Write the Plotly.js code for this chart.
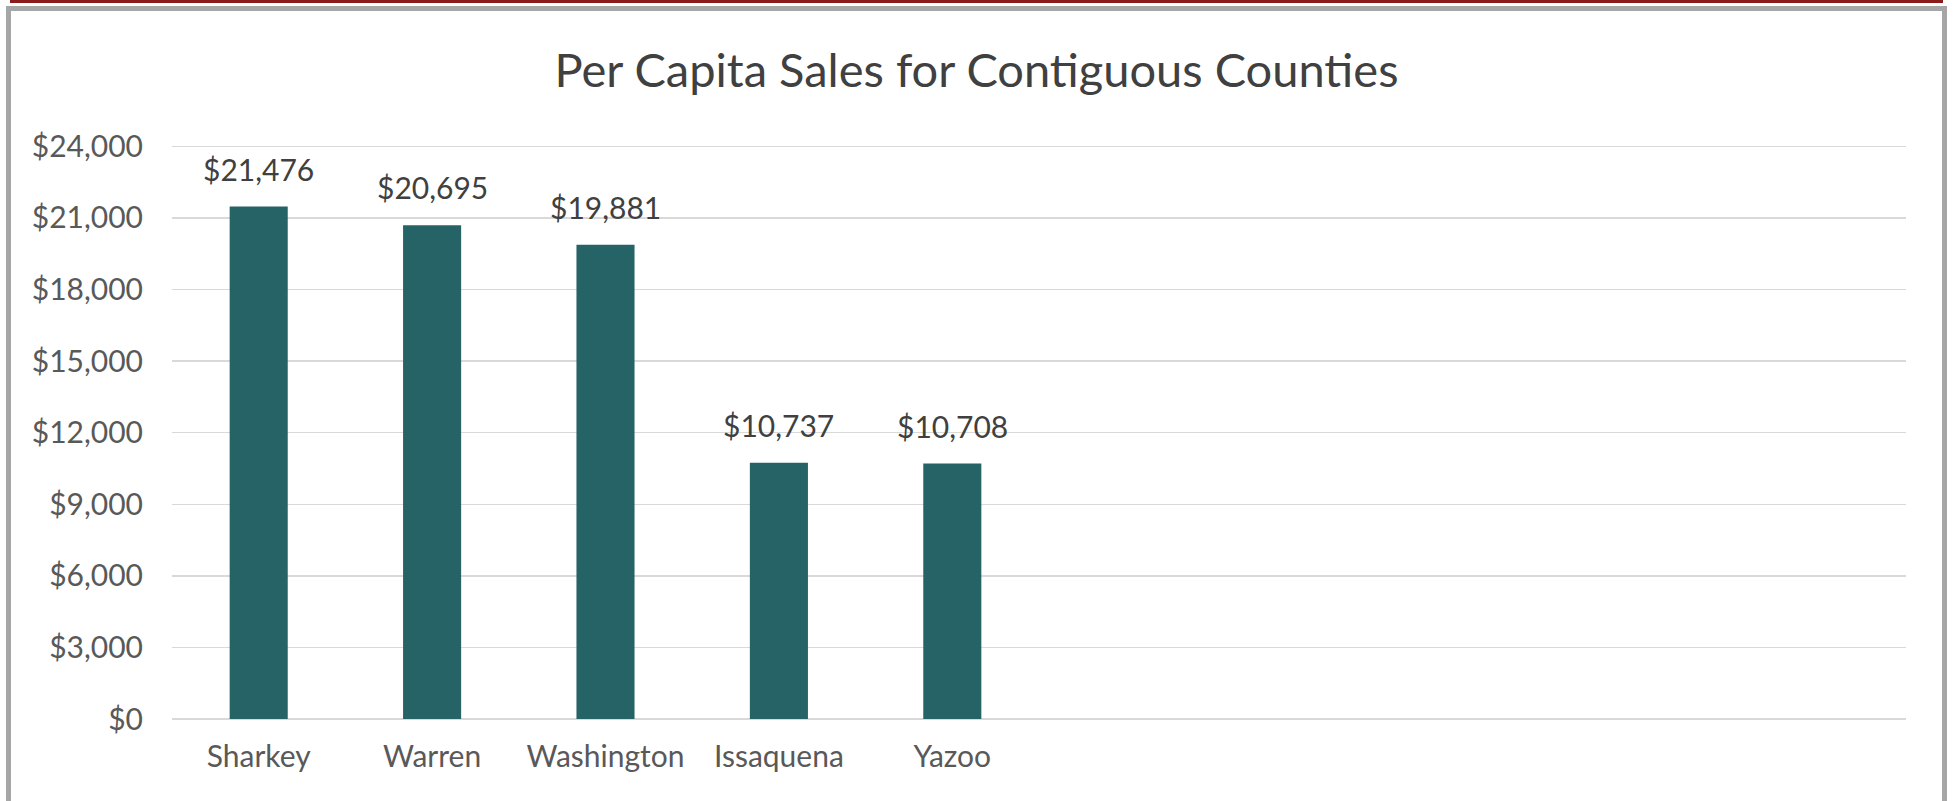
<!DOCTYPE html>
<html>
<head>
<meta charset="utf-8">
<script src="https://cdn.plot.ly/plotly-3.0.1.min.js"></script>
<style>
  html, body { margin: 0; padding: 0; background: #ffffff; width: 1953px; height: 801px; overflow: hidden; }
  #chart { position: absolute; left: 0; top: 0; width: 1953px; height: 801px; }
  #redline { position: absolute; left: 10px; top: 0px; width: 1933px; height: 3px; background: #8b1a1a; pointer-events: none; }
  #frame { position: absolute; left: 6px; top: 6px; width: 1931px; height: 820px; border: 5px solid #a6a6a6; border-bottom: none; pointer-events: none; }
</style>
</head>
<body>
<div id="chart"></div>
<div id="redline"></div>
<div id="frame"></div>
<script>
const chartTitle = 'Per Capita Sales for Contiguous Counties';
const counties = ['Sharkey', 'Warren', 'Washington', 'Issaquena', 'Yazoo'];
const sales = [21476, 20695, 19881, 10737, 10708];
const blankSlots = [' ', '  ', '   ', '    ', '     '];
const yTicks = [0, 3000, 6000, 9000, 12000, 15000, 18000, 21000, 24000];
const yTickLabels = ['$0', '$3,000', '$6,000', '$9,000', '$12,000', '$15,000', '$18,000', '$21,000', '$24,000'];

const FONT = 'Lato, "Open Sans", sans-serif';
const allCats = counties.concat(blankSlots);

const trace = {
  type: 'bar',
  x: counties,
  y: sales,
  width: 0.335,
  marker: { color: '#266367' },
  hoverinfo: 'skip'
};

const annotations = counties.map((c, i) => ({
  x: c,
  y: sales[i],
  xref: 'x',
  yref: 'y',
  text: '$' + sales[i].toLocaleString('en-US'),
  showarrow: false,
  yanchor: 'middle',
  yshift: 38,
  font: { family: FONT, size: 30, color: '#404040' }
}));

const layout = {
  width: 1953,
  height: 801,
  margin: { l: 172, r: 47, t: 144, b: 82 },
  paper_bgcolor: 'rgba(0,0,0,0)',
  plot_bgcolor: 'rgba(0,0,0,0)',
  showlegend: false,
  title: {
    text: chartTitle,
    x: 0.5,
    xref: 'container',
    y: 1 - 71 / 801,
    yref: 'container',
    yanchor: 'middle',
    font: { family: FONT, size: 47, color: '#404040' }
  },
  xaxis: {
    type: 'category',
    categoryorder: 'array',
    categoryarray: allCats,
    range: [-0.5, 9.5],
    tickvals: counties,
    ticktext: counties,
    showgrid: false,
    showline: false,
    zeroline: false,
    ticks: '',
    ticklabelstandoff: 17,
    tickfont: { family: FONT, size: 30, color: '#595959' }
  },
  yaxis: {
    range: [0, 24100],
    tickmode: 'array',
    tickvals: yTicks,
    ticktext: yTickLabels,
    showgrid: true,
    gridcolor: '#d9d9d9',
    gridwidth: 1.5,
    zeroline: true,
    zerolinecolor: '#d9d9d9',
    zerolinewidth: 1.5,
    showline: false,
    ticks: '',
    ticklabelstandoff: 28,
    tickfont: { family: FONT, size: 30, color: '#595959' }
  },
  annotations: annotations
};

Plotly.newPlot('chart', [trace], layout, { displayModeBar: false, staticPlot: true });
</script>
</body>
</html>
